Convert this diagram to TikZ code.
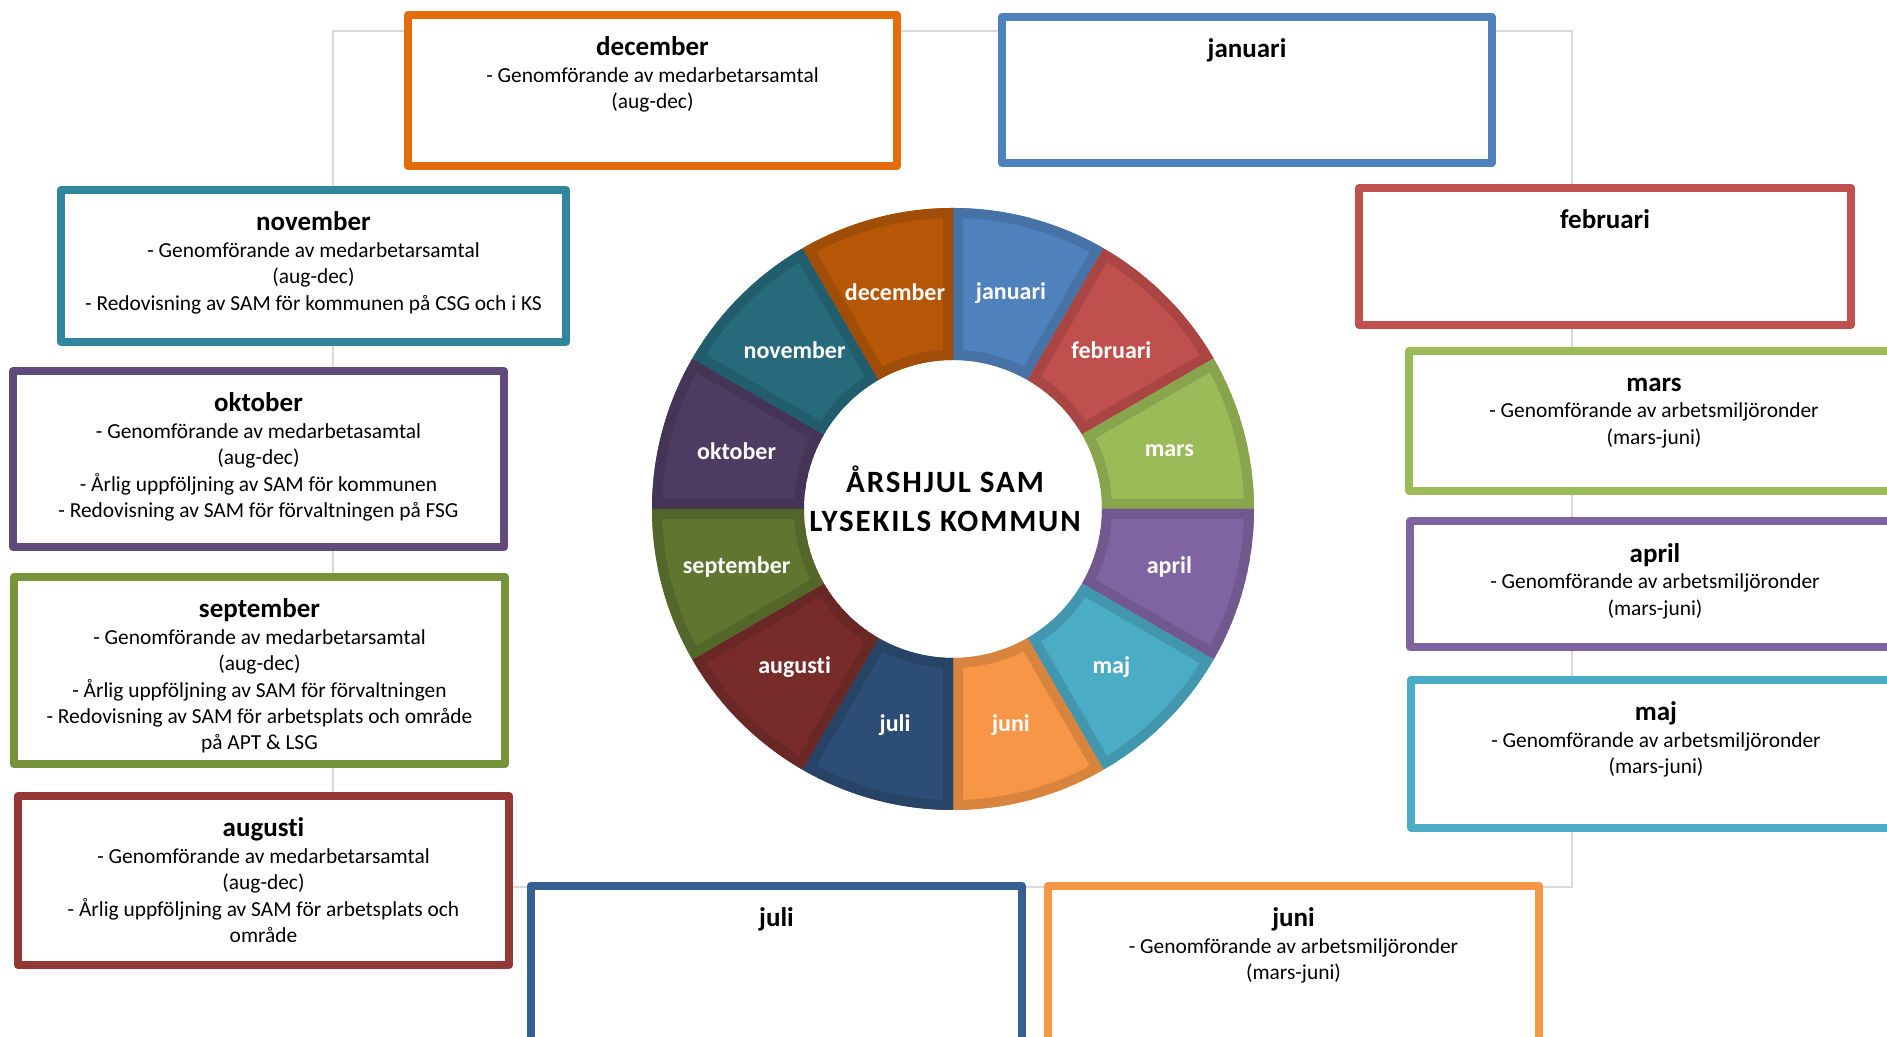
\documentclass[tikz,border=0pt]{standalone}
\usepackage{fontspec}
\setmainfont{Carlito}[Ligatures=NoCommon]
\usetikzlibrary{positioning}
% box outline colours
\definecolor{decLine}{HTML}{E46C0A}
\definecolor{janLine}{HTML}{4F81BD}
\definecolor{febLine}{HTML}{C0504D}
\definecolor{marLine}{HTML}{9BBB59}
\definecolor{aprLine}{HTML}{8064A2}
\definecolor{majLine}{HTML}{4BACC6}
\definecolor{junLine}{HTML}{F79646}
\definecolor{julLine}{HTML}{366092}
\definecolor{augLine}{HTML}{953735}
\definecolor{sepLine}{HTML}{77933C}
\definecolor{oktLine}{HTML}{604A7B}
\definecolor{novLine}{HTML}{31859C}
% wheel colours
\definecolor{janSeg}{HTML}{4F81BD}
\definecolor{febSeg}{HTML}{C0504D}
\definecolor{marSeg}{HTML}{9BBB59}
\definecolor{aprSeg}{HTML}{8064A2}
\definecolor{majSeg}{HTML}{4BACC6}
\definecolor{junSeg}{HTML}{F79646}
\definecolor{julSeg}{HTML}{2C4D75}
\definecolor{augSeg}{HTML}{772C2A}
\definecolor{sepSeg}{HTML}{5F7530}
\definecolor{oktSeg}{HTML}{4D3B62}
\definecolor{novSeg}{HTML}{276A7C}
\definecolor{decSeg}{HTML}{B65708}
\definecolor{frameGrey}{HTML}{D9D9D9}
\tikzset{
    monthbox/.style={draw=#1, line width=4pt, line join=round, fill=white, inner sep=0pt},
    boxtext/.style={align=center, inner sep=0pt, font=\fontsize{10.7}{13.2}\selectfont},
    wheeltext/.style={text=white, inner sep=0pt, font=\fontsize{12}{14}\selectfont\bfseries},
    frame/.style={draw=frameGrey, line width=1pt}
}

\begin{document}
\begin{tikzpicture}[x=0.5pt, y=0.5pt]
    \path[use as bounding box, fill=white] (0,0) rectangle (1887,1037);
    \clip (0,0) rectangle (1887,1037);

    % frame behind the boxes
    \coordinate (fNW) at (333,1006);
    \coordinate (fSE) at (1572,150);
    \draw[frame] (fNW) rectangle (fSE);

    % wheel
    \coordinate (hub) at (953,528);
    \foreach \m/\fc [count=\i] in {januari/janSeg, februari/febSeg, mars/marSeg,
        april/aprSeg, maj/majSeg, juni/junSeg, juli/julSeg, augusti/augSeg,
        september/sepSeg, oktober/oktSeg, november/novSeg, december/decSeg} {
        \pgfmathsetmacro\s{120-30*\i}
        \pgfmathsetmacro\e{90-30*\i}
        \pgfmathsetmacro\mid{105-30*\i}
        \def\wedgepath{([shift={(\s:301)}]hub) arc[start angle=\s, end angle=\e, radius=301]
            -- ([shift={(\e:149)}]hub) arc[start angle=\e, end angle=\s, radius=149] -- cycle}
        \begin{scope}
            \clip \wedgepath;
            \draw[fill=\fc, draw=\fc!88!black, line width=10pt] \wedgepath;
        \end{scope}
        \node[wheeltext] (w-\m) at ([shift={(\mid:224)}]hub) {\m};
    }
    \node[align=center, inner sep=0pt,
        font=\fontsize{15.5}{19.3}\selectfont\bfseries\addfontfeature{LetterSpace=6}] (title) at (945,538)
        {ÅRSHJUL SAM\\LYSEKILS KOMMUN};

    % boxes
    \node[monthbox=decLine, minimum width=244.5pt, minimum height=75.5pt] (b-dec) at (652.5,946.5) {};
    \node[monthbox=janLine, minimum width=245pt, minimum height=73pt] (b-jan) at (1247,947) {};
    \node[monthbox=febLine, minimum width=246pt, minimum height=68.5pt] (b-feb) at (1605,780.5) {};
    \node[monthbox=marLine, minimum width=245pt, minimum height=70pt] (b-mar) at (1654,616) {};
    \node[monthbox=aprLine, minimum width=245pt, minimum height=63pt] (b-apr) at (1655,452.5) {};
    \node[monthbox=majLine, minimum width=245pt, minimum height=74pt] (b-maj) at (1656,283) {};
    \node[monthbox=junLine, minimum width=245.5pt, minimum height=80pt] (b-jun) at (1293.5,71.3) {};
    \node[monthbox=julLine, minimum width=245.5pt, minimum height=80pt] (b-jul) at (776.5,71.3) {};
    \node[monthbox=augLine, minimum width=245.5pt, minimum height=84.5pt] (b-aug) at (263.5,156.5) {};
    \node[monthbox=sepLine, minimum width=245.5pt, minimum height=93.5pt] (b-sep) at (259.5,366.5) {};
    \node[monthbox=oktLine, minimum width=245.5pt, minimum height=88pt] (b-okt) at (258.5,578) {};
    \node[monthbox=novLine, minimum width=252.5pt, minimum height=76pt] (b-nov) at (313.5,771) {};

    % box texts
    \node[boxtext, below=12.8pt of b-dec.north] (t-dec) {\strut{\fontsize{13.5}{13.2}\selectfont\bfseries december}\\
        - Genomförande av medarbetarsamtal\\(aug-dec)};
    \node[boxtext, below=12.8pt of b-jan.north] (t-jan) {\strut{\fontsize{13.5}{13.2}\selectfont\bfseries januari}};
    \node[boxtext, below=12.8pt of b-feb.north] (t-feb) {\strut{\fontsize{13.5}{13.2}\selectfont\bfseries februari}};
    \node[boxtext, below=12.8pt of b-mar.north] (t-mar) {\strut{\fontsize{13.5}{13.2}\selectfont\bfseries mars}\\
        - Genomförande av arbetsmiljöronder\\(mars-juni)};
    \node[boxtext, below=12.8pt of b-apr.north] (t-apr) {\strut{\fontsize{13.5}{13.2}\selectfont\bfseries april}\\
        - Genomförande av arbetsmiljöronder\\(mars-juni)};
    \node[boxtext, below=12.8pt of b-maj.north] (t-maj) {\strut{\fontsize{13.5}{13.2}\selectfont\bfseries maj}\\
        - Genomförande av arbetsmiljöronder\\(mars-juni)};
    \node[boxtext, below=12.8pt of b-jun.north] (t-jun) {\strut{\fontsize{13.5}{13.2}\selectfont\bfseries juni}\\
        - Genomförande av arbetsmiljöronder\\(mars-juni)};
    \node[boxtext, below=12.8pt of b-jul.north] (t-jul) {\strut{\fontsize{13.5}{13.2}\selectfont\bfseries juli}};
    \node[boxtext, below=12.8pt of b-aug.north] (t-aug) {\strut{\fontsize{13.5}{13.2}\selectfont\bfseries augusti}\\
        - Genomförande av medarbetarsamtal\\(aug-dec)\\
        - Årlig uppföljning av SAM för arbetsplats och\\område};
    \node[boxtext, below=12.8pt of b-sep.north] (t-sep) {\strut{\fontsize{13.5}{13.2}\selectfont\bfseries september}\\
        - Genomförande av medarbetarsamtal\\(aug-dec)\\
        - Årlig uppföljning av SAM för förvaltningen\\
        - Redovisning av SAM för arbetsplats och område\\på APT \& LSG};
    \node[boxtext, below=12.8pt of b-okt.north] (t-okt) {\strut{\fontsize{13.5}{13.2}\selectfont\bfseries oktober}\\
        - Genomförande av medarbetasamtal\\(aug-dec)\\
        - Årlig uppföljning av SAM för kommunen\\
        - Redovisning av SAM för förvaltningen på FSG};
    \node[boxtext, below=12.8pt of b-nov.north] (t-nov) {\strut{\fontsize{13.5}{13.2}\selectfont\bfseries november}\\
        - Genomförande av medarbetarsamtal\\(aug-dec)\\
        - Redovisning av SAM för kommunen på CSG och i KS};
\end{tikzpicture}
\end{document}
